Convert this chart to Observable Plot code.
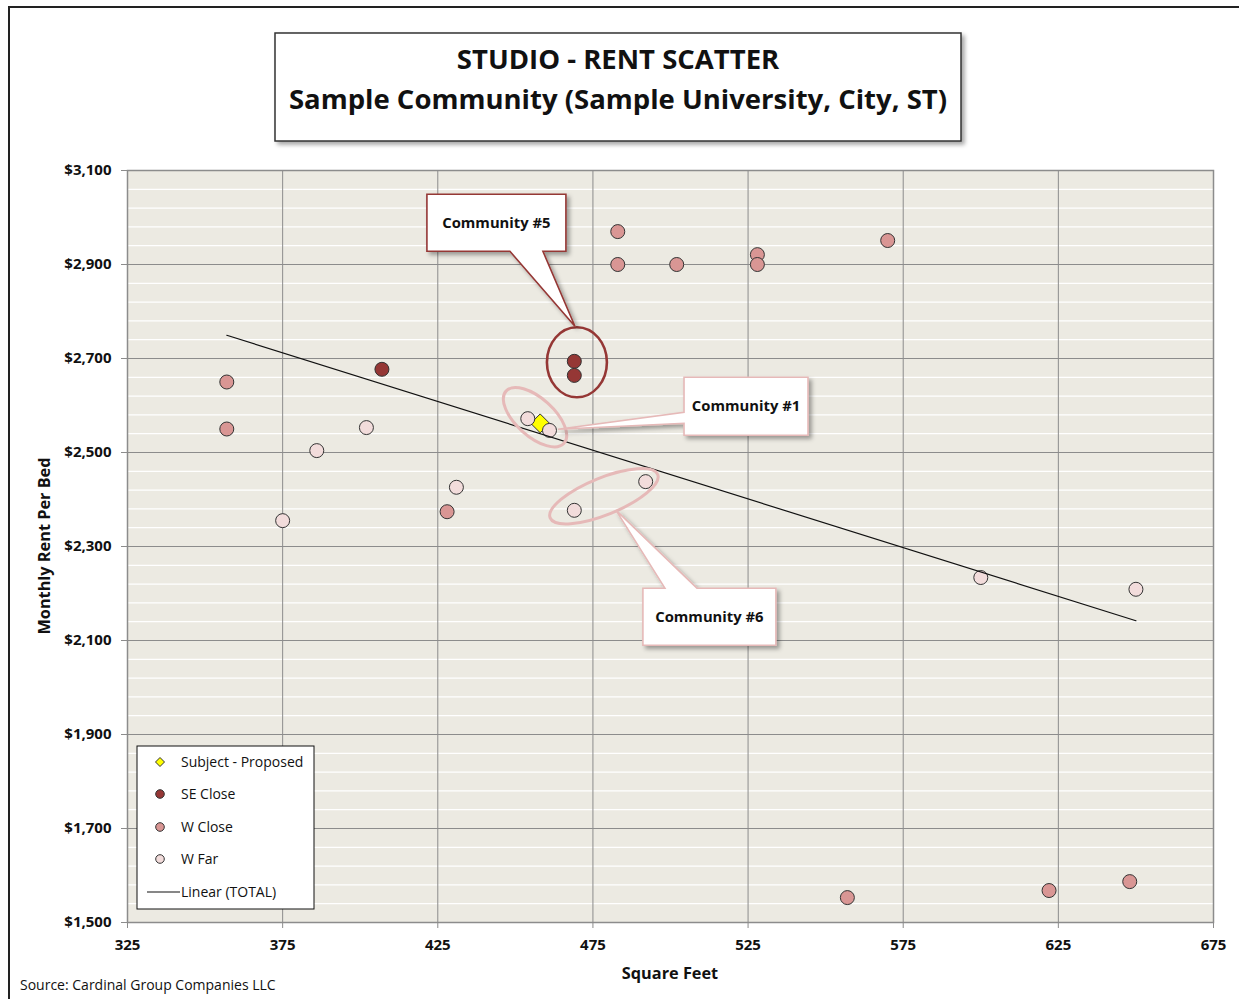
<!DOCTYPE html>
<html>
<head>
<meta charset="utf-8">
<script src="https://cdn.jsdelivr.net/npm/d3@7"></script>
<script src="https://cdn.jsdelivr.net/npm/@observablehq/plot@0.6"></script>
<style>
  html, body { margin: 0; padding: 0; background: #fff; }
  svg { display: block; }
</style>
</head>
<body>
<div id="chart"></div>
<script>
// ---------- data ----------
const xTicks = [325, 375, 425, 475, 525, 575, 625, 675];
const yTicks = [1500, 1700, 1900, 2100, 2300, 2500, 2700, 2900, 3100];

const subjectProposed = [[458, 2562]];
const seClose = [[407, 2677], [469, 2694], [469, 2664]];
const wClose = [
  [357, 2650], [357, 2550], [428, 2374], [483, 2970], [483, 2900], [502, 2900],
  [528, 2921], [528, 2900], [570, 2951], [557, 1553], [622, 1568], [648, 1587]
];
const wFar = [
  [375, 2355], [386, 2504], [402, 2553], [431, 2426], [454, 2572], [461, 2547],
  [469, 2377], [492, 2438], [600, 2234], [650, 2209]
];
const seriesNames = ["Subject - Proposed", "SE Close", "W Close", "W Far"];
const calloutLabels = ["Community #5", "Community #1", "Community #6"];

const toRows = (arr, s) => arr.map(([sqft, rent]) => ({series: s, sqft, rent}));
const rows = [
  ...toRows(subjectProposed, seriesNames[0]),
  ...toRows(seClose, seriesNames[1]),
  ...toRows(wClose, seriesNames[2]),
  ...toRows(wFar, seriesNames[3])
];

// ---------- styles ----------
const FONT = "'Open Sans', Lato, sans-serif";
const colors = {
  "Subject - Proposed": "#ffff00",
  "SE Close": "#953735",
  "W Close": "#d99694",
  "W Far": "#f2dcdb"
};
const minorY = d3.range(1540, 3100, 40).filter(v => (v - 1500) % 200 !== 0);
const money = d => "$" + d3.format(",")(d);

const plot = Plot.plot({
  width: 1239,
  height: 999,
  marginLeft: 127,
  marginRight: 26,
  marginTop: 170,
  marginBottom: 77,
  style: {fontFamily: FONT, background: "transparent", color: "#111"},
  x: {domain: [325, 675], label: null},
  y: {domain: [1500, 3100], label: null},
  marks: [
    Plot.frame({fill: "#eceae2", stroke: null}),
    Plot.gridY(minorY, {stroke: "#ffffff", strokeOpacity: 1, strokeWidth: 1.3}),
    Plot.gridX(xTicks, {stroke: "#8c8c8c", strokeOpacity: 1}),
    Plot.gridY(yTicks, {stroke: "#8c8c8c", strokeOpacity: 1}),
    Plot.frame({stroke: "#8c8c8c", strokeWidth: 1.5}),
    Plot.axisX(xTicks, {tickSize: 6, tickPadding: 11, stroke: "#8c8c8c", fill: "#111",
      fontSize: 15, fontWeight: "bold", label: null}),
    Plot.axisY(yTicks, {tickSize: 6, tickPadding: 10, stroke: "#8c8c8c", fill: "#111",
      fontSize: 15, fontWeight: "bold", tickFormat: money, label: null}),
    Plot.dot(rows.filter(d => d.series === seriesNames[0]), {x: "sqft", y: "rent", symbol: "diamond2",
      r: 8.5, fill: colors[seriesNames[0]], stroke: "#333", strokeWidth: 1}),
    Plot.dot(rows.filter(d => d.series === seriesNames[3]), {x: "sqft", y: "rent", r: 7,
      fill: colors[seriesNames[3]], stroke: "#333", strokeWidth: 1}),
    Plot.dot(rows.filter(d => d.series === seriesNames[2]), {x: "sqft", y: "rent", r: 7,
      fill: colors[seriesNames[2]], stroke: "#333", strokeWidth: 1}),
    Plot.dot(rows.filter(d => d.series === seriesNames[1]), {x: "sqft", y: "rent", r: 7,
      fill: colors[seriesNames[1]], stroke: "#333", strokeWidth: 1}),
    Plot.linearRegressionY(rows, {x: "sqft", y: "rent", stroke: "#111", strokeWidth: 1.2, ci: 0})
  ]
});

document.getElementById("chart").appendChild(plot);

const svg = d3.select(plot);
const sx = plot.scale("x").apply, sy = plot.scale("y").apply;

// drop shadow
const defs = svg.append("defs");
const f = defs.append("filter").attr("id", "shadow").attr("x", "-10%").attr("y", "-10%")
  .attr("width", "130%").attr("height", "140%");
f.append("feDropShadow").attr("dx", 3).attr("dy", 3).attr("stdDeviation", 2)
  .attr("flood-color", "#000").attr("flood-opacity", 0.35);

const g = svg.append("g").attr("font-family", FONT).attr("text-anchor", "start");

// outer border
g.append("rect").attr("x", 9).attr("y", 7).attr("width", 1250).attr("height", 1010)
  .attr("fill", "none").attr("stroke", "#222").attr("stroke-width", 2);

// title box
g.append("rect").attr("x", 275).attr("y", 33).attr("width", 686).attr("height", 108)
  .attr("fill", "#fff").attr("stroke", "#333").attr("stroke-width", 1.5)
  .attr("filter", "url(#shadow)");
g.append("text").attr("x", 618).attr("y", 69).attr("text-anchor", "middle")
  .attr("font-size", 27.5).attr("font-weight", "bold").attr("fill", "#111")
  .text("STUDIO - RENT SCATTER");
g.append("text").attr("x", 618).attr("y", 109).attr("text-anchor", "middle")
  .attr("font-size", 27.5).attr("font-weight", "bold").attr("fill", "#111")
  .text("Sample Community (Sample University, City, ST)");

// axis titles and source
g.append("text").attr("transform", "translate(50,546) rotate(-90)").attr("text-anchor", "middle")
  .attr("font-size", 16.3).attr("font-weight", "bold").attr("fill", "#111")
  .text("Monthly Rent Per Bed");
g.append("text").attr("x", 670).attr("y", 979).attr("text-anchor", "middle")
  .attr("font-size", 16.3).attr("font-weight", "bold").attr("fill", "#111")
  .text("Square Feet");
g.append("text").attr("x", 20).attr("y", 990).attr("text-anchor", "start")
  .attr("font-size", 14).attr("fill", "#111")
  .text("Source: Cardinal Group Companies LLC");

// ---------- callouts (anchored on the data scales) ----------
const callouts = [
  {label: calloutLabels[0], cx: sx(470), cy: sy(2691), rx: 30, ry: 35, rot: 0,
   ring: "#953735", ringW: 2.6, box: [-150, -168, 139, 57], tip: [-2, -36],
   base: ["bottom", -67, -34]},
  {label: calloutLabels[1], cx: sx(456.5), cy: sy(2574), rx: 39, ry: 19, rot: 42,
   ring: "#e6b9b8", ringW: 3, box: [149, -40, 124, 58], tip: [23, 12],
   base: ["left", -5, 6]},
  {label: calloutLabels[2], cx: sx(478.7), cy: sy(2406), rx: 58, ry: 18.5, rot: -22,
   ring: "#e6b9b8", ringW: 3, box: [39, 92, 133, 57], tip: [12, 14],
   base: ["top", 61, 93]}
];
const cg = svg.append("g").attr("font-family", FONT);
callouts.forEach(c => {
  cg.append("ellipse").attr("cx", c.cx).attr("cy", c.cy).attr("rx", c.rx).attr("ry", c.ry)
    .attr("transform", `rotate(${c.rot},${c.cx},${c.cy})`)
    .attr("fill", "none").attr("stroke", c.ring).attr("stroke-width", c.ringW);
});
callouts.forEach(c => {
  const x0 = c.cx + c.box[0], y0 = c.cy + c.box[1], x1 = x0 + c.box[2], y1 = y0 + c.box[3];
  const tx = c.cx + c.tip[0], ty = c.cy + c.tip[1];
  let p;
  if (c.base[0] === "bottom") {
    const a = c.cx + c.base[1], b = c.cx + c.base[2];
    p = `M${x0},${y0}H${x1}V${y1}H${b}L${tx},${ty}L${a},${y1}H${x0}Z`;
  } else if (c.base[0] === "left") {
    const a = c.cy + c.base[1], b = c.cy + c.base[2];
    p = `M${x0},${y0}H${x1}V${y1}H${x0}V${b}L${tx},${ty}L${x0},${a}Z`;
  } else {
    const a = c.cx + c.base[1], b = c.cx + c.base[2];
    p = `M${x0},${y0}H${a}L${tx},${ty}L${b},${y0}H${x1}V${y1}H${x0}Z`;
  }
  cg.append("path").attr("d", p).attr("fill", "#fff").attr("stroke", c.ring)
    .attr("stroke-width", 1.6).attr("stroke-linejoin", "miter").attr("filter", "url(#shadow)");
  cg.append("text").attr("x", (x0 + x1) / 2).attr("y", (y0 + y1) / 2 + 5)
    .attr("text-anchor", "middle").attr("font-size", 14.8).attr("font-weight", "bold")
    .attr("fill", "#111").text(c.label);
});

// ---------- legend ----------
const lg = svg.append("g").attr("font-family", FONT).attr("text-anchor", "start");
lg.append("rect").attr("x", 137).attr("y", 746).attr("width", 177).attr("height", 163)
  .attr("fill", "#fff").attr("stroke", "#111").attr("stroke-width", 1);
const legendY = [762, 794, 827, 859, 892];
seriesNames.forEach((s, i) => {
  const y = legendY[i];
  if (i === 0) {
    lg.append("path").attr("d", `M160,${y - 4.5}L164.5,${y}L160,${y + 4.5}L155.5,${y}Z`)
      .attr("fill", colors[s]).attr("stroke", "#333").attr("stroke-width", 1);
  } else {
    lg.append("circle").attr("cx", 160).attr("cy", y).attr("r", 4.3)
      .attr("fill", colors[s]).attr("stroke", "#333").attr("stroke-width", 1);
  }
  lg.append("text").attr("x", 181).attr("y", y + 5).attr("font-size", 14)
    .attr("text-anchor", "start").attr("fill", "#111").text(s);
});
lg.append("line").attr("x1", 147).attr("x2", 180).attr("y1", legendY[4]).attr("y2", legendY[4])
  .attr("stroke", "#111").attr("stroke-width", 1.2);
lg.append("text").attr("x", 181).attr("y", legendY[4] + 5).attr("font-size", 14)
  .attr("text-anchor", "start").attr("fill", "#111").text("Linear (TOTAL)");
</script>
</body>
</html>
